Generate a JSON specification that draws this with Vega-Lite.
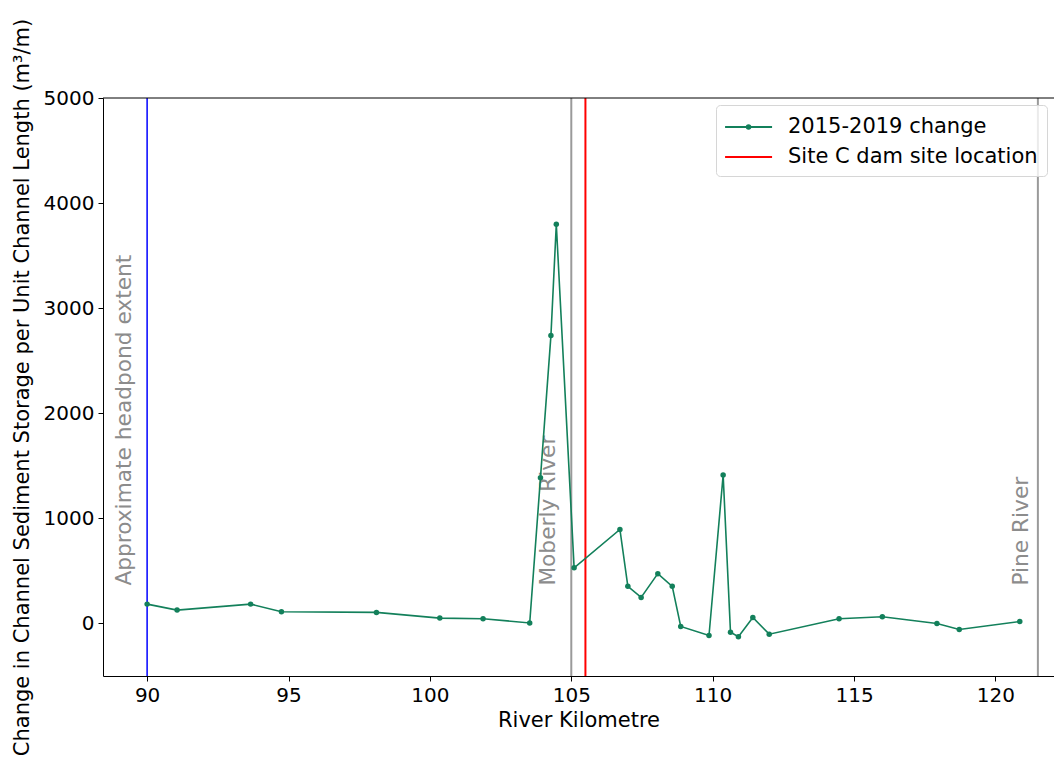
{
  "$schema": "https://vega.github.io/schema/vega-lite/v6.json",
  "width": 951,
  "height": 578,
  "autosize": {"type": "none"},
  "padding": {"left": 103, "top": 98, "right": 0, "bottom": 87},
  "background": "white",
  "config": {
    "view": {"stroke": null},
    "font": "DejaVu Sans",
    "axis": {
      "grid": false,
      "domainColor": "#000",
      "domainWidth": 1,
      "tickColor": "#000",
      "tickWidth": 1,
      "tickSize": 5,
      "labelColor": "#000",
      "titleColor": "#000",
      "labelFont": "DejaVu Sans",
      "titleFont": "DejaVu Sans",
      "labelFontSize": 20,
      "titleFontSize": 21,
      "titleFontWeight": "normal",
      "labelPadding": 4
    }
  },
  "datasets": {
    "profile": [
      {"km": 90.0, "change": 184, "series": "2015-2019 change"},
      {"km": 91.06, "change": 127, "series": "2015-2019 change"},
      {"km": 93.66, "change": 184, "series": "2015-2019 change"},
      {"km": 94.75, "change": 112, "series": "2015-2019 change"},
      {"km": 98.11, "change": 105, "series": "2015-2019 change"},
      {"km": 100.35, "change": 51, "series": "2015-2019 change"},
      {"km": 101.88, "change": 45, "series": "2015-2019 change"},
      {"km": 103.53, "change": 5, "series": "2015-2019 change"},
      {"km": 103.91, "change": 1387, "series": "2015-2019 change"},
      {"km": 104.28, "change": 2739, "series": "2015-2019 change"},
      {"km": 104.47, "change": 3798, "series": "2015-2019 change"},
      {"km": 105.1, "change": 530, "series": "2015-2019 change"},
      {"km": 106.72, "change": 894, "series": "2015-2019 change"},
      {"km": 107.0, "change": 353, "series": "2015-2019 change"},
      {"km": 107.47, "change": 248, "series": "2015-2019 change"},
      {"km": 108.06, "change": 474, "series": "2015-2019 change"},
      {"km": 108.57, "change": 353, "series": "2015-2019 change"},
      {"km": 108.87, "change": -29, "series": "2015-2019 change"},
      {"km": 109.87, "change": -115, "series": "2015-2019 change"},
      {"km": 110.37, "change": 1412, "series": "2015-2019 change"},
      {"km": 110.63, "change": -83, "series": "2015-2019 change"},
      {"km": 110.91, "change": -127, "series": "2015-2019 change"},
      {"km": 111.42, "change": 57, "series": "2015-2019 change"},
      {"km": 112.0, "change": -102, "series": "2015-2019 change"},
      {"km": 114.47, "change": 45, "series": "2015-2019 change"},
      {"km": 116.0, "change": 64, "series": "2015-2019 change"},
      {"km": 117.93, "change": 0, "series": "2015-2019 change"},
      {"km": 118.72, "change": -57, "series": "2015-2019 change"},
      {"km": 120.86, "change": 19, "series": "2015-2019 change"}
    ],
    "markers": [
      {"km": 90.0, "name": "Approximate headpond extent", "kind": "headpond"},
      {"km": 105.0, "name": "Moberly River", "kind": "tributary"},
      {"km": 105.5, "name": "Site C dam site location", "kind": "dam"},
      {"km": 121.5, "name": "Pine River", "kind": "tributary"}
    ]
  },
  "layer": [
    {
      "data": {"name": "markers"},
      "transform": [{"filter": "datum.kind === 'headpond'"}],
      "mark": {"type": "rule", "color": "blue", "strokeWidth": 1.5},
      "encoding": {
        "x": {"field": "km", "type": "quantitative"}
      }
    },
    {
      "data": {"name": "markers"},
      "transform": [{"filter": "datum.kind === 'tributary'"}],
      "mark": {"type": "rule", "color": "#9a9a9a", "strokeWidth": 2},
      "encoding": {
        "x": {"field": "km", "type": "quantitative"}
      }
    },
    {
      "data": {"name": "markers"},
      "transform": [{"filter": "datum.kind === 'dam'"}],
      "mark": {"type": "rule", "strokeWidth": 2},
      "encoding": {
        "x": {"field": "km", "type": "quantitative"},
        "color": {"field": "name", "type": "nominal"}
      }
    },
    {
      "data": {"name": "markers"},
      "transform": [{"filter": "datum.kind !== 'dam' && datum.name !== 'Pine River'"}],
      "mark": {"type": "text", "angle": 270, "align": "left", "baseline": "alphabetic", "dy": -16, "fontSize": 21.7, "color": "#8c8c8c", "font": "DejaVu Sans"},
      "encoding": {
        "x": {"field": "km", "type": "quantitative"},
        "y": {"datum": 360, "type": "quantitative"},
        "text": {"field": "name"}
      }
    },
    {
      "data": {"name": "markers"},
      "transform": [{"filter": "datum.name === 'Pine River'"}],
      "mark": {"type": "text", "angle": 270, "align": "left", "baseline": "alphabetic", "dy": -10, "fontSize": 21.7, "color": "#8c8c8c", "font": "DejaVu Sans"},
      "encoding": {
        "x": {"field": "km", "type": "quantitative"},
        "y": {"datum": 360, "type": "quantitative"},
        "text": {"field": "name"}
      }
    },
    {
      "data": {"name": "markers"},
      "transform": [{"filter": "datum.kind === 'dam'"}],
      "mark": {"type": "rule", "color": "#000", "strokeWidth": 1},
      "encoding": {
        "y": {"datum": 5000, "type": "quantitative"}
      }
    },
    {
      "data": {"name": "profile"},
      "mark": {"type": "line", "strokeWidth": 1.6, "point": {"filled": true, "size": 30}},
      "encoding": {
        "x": {
          "field": "km",
          "type": "quantitative",
          "scale": {"domain": [88.44, 122.07], "nice": false, "zero": false},
          "axis": {"values": [90, 95, 100, 105, 110, 115, 120], "title": "River Kilometre", "titlePadding": 4}
        },
        "y": {
          "field": "change",
          "type": "quantitative",
          "scale": {"domain": [-500, 5000], "nice": false, "zero": false},
          "axis": {"values": [0, 1000, 2000, 3000, 4000, 5000], "format": "d", "title": "Change in Channel Sediment Storage per Unit Channel Length (m³/m)", "titlePadding": 11}
        },
        "color": {
          "field": "series",
          "type": "nominal",
          "scale": {"domain": ["2015-2019 change", "Site C dam site location"], "range": ["#13805b", "#ff0000"]},
          "legend": {
            "title": null,
            "orient": "none",
            "legendX": 613,
            "legendY": 7,
            "symbolType": "M-1.1,0H2.9",
            "symbolSize": 552,
            "symbolStrokeWidth": 2,
            "labelFontSize": 21,
            "labelFont": "DejaVu Sans",
            "labelColor": "#000",
            "labelOffset": 37,
            "labelLimit": 400,
            "padding": 9,
            "rowPadding": 7,
            "fillColor": "rgba(255,255,255,0.8)",
            "strokeColor": "#d6d6d6",
            "cornerRadius": 4,
            "encode": {
              "symbols": {
                "update": {
                  "shape": {"signal": "datum.value === '2015-2019 change' ? 'M-1.1,0H2.9M0.75,0A0.15,0.15,0,1,0,1.05,0A0.15,0.15,0,1,0,0.75,0' : 'M-1.1,0H2.9'"}
                }
              }
            }
          }
        }
      }
    }
  ]
}
